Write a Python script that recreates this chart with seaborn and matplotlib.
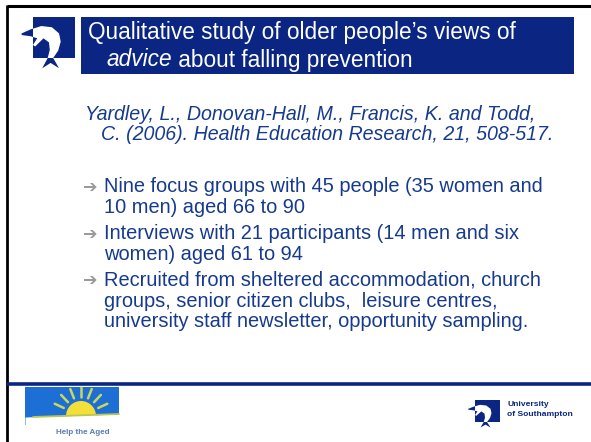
import numpy as np
import matplotlib
matplotlib.use("Agg")
import matplotlib.pyplot as plt
from matplotlib.patches import Rectangle, Polygon, Wedge
import seaborn as sns

# ---- slide content ----
title_lines = ["Qualitative study of older people\u2019s views of", "advice", " about falling prevention"]
citation = ["Yardley, L., Donovan-Hall, M., Francis, K. and Todd,",
            "C. (2006). Health Education Research, 21, 508-517."]
bullets = [
    ["Nine focus groups with 45 people (35 women and", "10 men) aged 66 to 90"],
    ["Interviews with 21 participants (14 men and six", "women) aged 61 to 94"],
    ["Recruited from sheltered accommodation, church",
     "groups, senior citizen clubs,  leisure centres,",
     "university staff newsletter, opportunity sampling."],
]
footer_left = "Help the Aged"
footer_right = ["University", "of Southampton"]

NAVY = "#0b2682"
TEXT = "#163a8f"
GREY = "#9a9a9a"

sns.set_style("white")
plt.rcParams["font.family"] = ["Liberation Sans", "DejaVu Sans"]

fig = plt.figure(figsize=(5.91, 4.42), dpi=100)
ax = fig.add_axes([0, 0, 1, 1])
ax.set_xlim(0, 591)
ax.set_ylim(442, 0)
ax.axis("off")

# frame lines
ax.plot([7, 591], [6, 6], color="black", lw=2.2, solid_capstyle="butt")
ax.plot([7, 7], [5, 442], color="black", lw=2.0, solid_capstyle="butt")
ax.plot([7, 591], [384, 384], color=NAVY, lw=2.6, solid_capstyle="butt")

# dolphin shape, unit coords of the logo square (y down)
dolphin = np.array([
    [-0.27, 0.40], [-0.05, 0.30], [0.20, 0.22], [0.45, 0.25], [0.62, 0.40],
    [0.66, 0.60], [0.60, 0.82], [0.48, 1.00], [0.62, 1.25], [0.42, 1.12],
    [0.22, 1.25], [0.35, 1.00], [0.40, 0.80], [0.38, 0.62], [0.25, 0.52],
    [0.05, 0.72], [0.00, 0.68], [0.10, 0.52], [-0.05, 0.47], [-0.27, 0.44],
])


def draw_logo(x0, y0, w, h):
    pts = dolphin * [w, h] + [x0, y0]
    ax.add_patch(Polygon(pts, closed=True, color=NAVY, lw=0, zorder=3))
    sq = Rectangle((x0, y0), w, h, color=NAVY, lw=0, zorder=3)
    ax.add_patch(sq)
    white = Polygon(pts, closed=True, color="white", lw=0, zorder=4)
    ax.add_patch(white)
    white.set_clip_path(sq)


# header
draw_logo(33, 17, 42, 41)
ax.add_patch(Rectangle((81, 17), 493, 57, color=NAVY, lw=0))
ax.text(88, 32, title_lines[0], color="white", fontsize=16.3, va="center", ha="left")
t = ax.text(106, 60, title_lines[1], color="white", fontsize=16.3, va="center",
            ha="left", style="italic")
fig.canvas.draw()
bb = t.get_window_extent().transformed(ax.transData.inverted())
ax.text(bb.x1, 60, title_lines[2], color="white", fontsize=16.3, va="center", ha="left")

# citation
ax.text(85, 114, citation[0], color=TEXT, fontsize=14.1, style="italic", va="center")
ax.text(101, 134, citation[1], color=TEXT, fontsize=14.1, style="italic", va="center")

# bullets
y = 187
for group in bullets:
    ax.text(83, y, "\u2794", color=GREY, fontsize=12.5, va="center", family="DejaVu Sans")
    for line in group:
        ax.text(104, y, line, color=TEXT, fontsize=14.4, va="center")
        y += 20.8
    y += 5

# Help the Aged logo
ax.add_patch(Rectangle((25, 387), 94, 38, color="#1d6fd6", lw=0))
for ang in np.linspace(205, 335, 7):
    a = np.deg2rad(ang)
    ax.plot([81 + 19 * np.cos(a), 81 + 29 * np.cos(a)],
            [416 + 19 * np.sin(a), 416 + 29 * np.sin(a)],
            color="#c9d957", lw=1.8, solid_capstyle="round")
ax.add_patch(Wedge((81, 416), 15, 180, 360, color="#f4df3a", lw=0))
ax.fill_between([25, 119], [417, 414], [426, 426], color="white", lw=0)
ax.plot([33, 119], [417, 414], color="#b9c94f", lw=1.3)
ax.text(83, 433, footer_left, color="#5b7cb8", fontsize=5.8, ha="center",
        va="center", weight="bold")

# University logo
draw_logo(475, 400, 25, 22)
ax.text(507, 404, footer_right[0], color=NAVY, fontsize=6.1, weight="bold", va="center")
ax.text(507, 415, footer_right[1], color=NAVY, fontsize=6.1, weight="bold", va="center")

fig.savefig("out.png", dpi=100)
